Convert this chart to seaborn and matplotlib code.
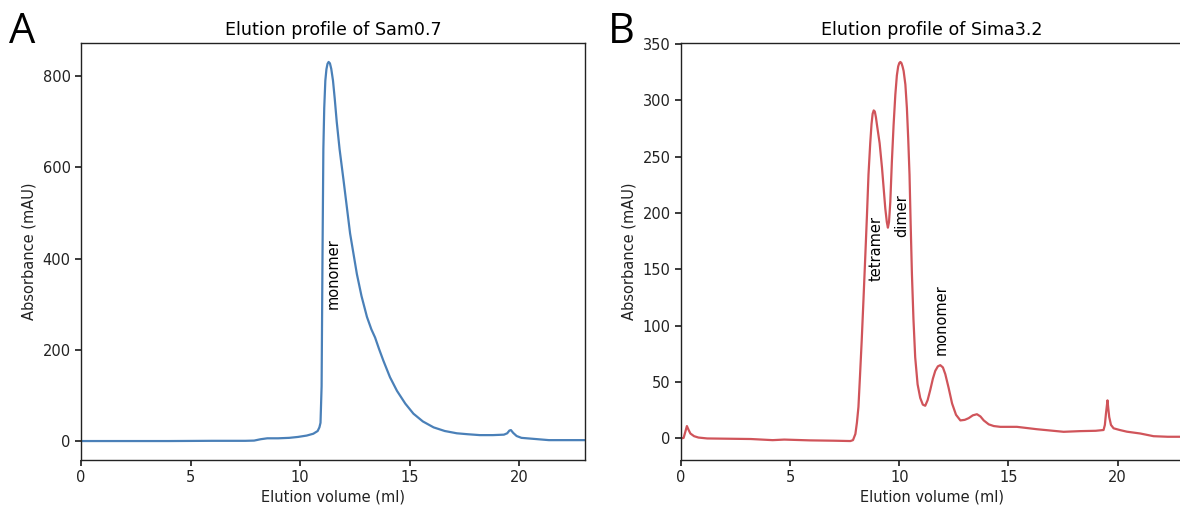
import numpy as np
import pandas as pd
import seaborn as sns
import matplotlib
matplotlib.use("Agg")
import matplotlib.pyplot as plt

# Panel A: Sam0.7 elution profile (volume in ml, absorbance in mAU)
vol_a = [0, 2, 4, 6, 7.5, 7.9, 8.2, 8.5, 9.0, 9.5, 9.9, 10.3, 10.6, 10.8, 10.88,
         10.93, 10.98, 11.02, 11.06, 11.1, 11.15, 11.2, 11.25, 11.3, 11.36, 11.42,
         11.5, 11.58, 11.67, 11.8, 11.98, 12.28, 12.59, 12.8, 13.05, 13.25, 13.42,
         13.6, 13.8, 14.1, 14.42, 14.8, 15.17, 15.6, 16.09, 16.6, 17.15, 17.63,
         18.2, 18.8, 19.3, 19.45, 19.55, 19.62, 19.72, 19.88, 20.1, 20.6, 21.35,
         22.2, 23.0]
abs_a = [0, 0, 0, 0.5, 0.5, 1, 4, 6, 6, 7, 9, 12, 16, 22, 30,
         40, 120, 400, 640, 730, 790, 815, 827, 831, 828, 816,
         790, 750, 700, 640, 572, 455, 366, 318, 272, 245, 227,
         202, 176, 140, 110, 82, 60, 43, 30, 22, 17, 15,
         13, 13, 14, 17, 23, 24, 18, 11, 7, 5, 2,
         2, 2]

# Panel B: Sima3.2 elution profile
vol_b = [0, 0.12, 0.2, 0.27, 0.35, 0.43, 0.6, 0.8, 1.2, 3.2, 4.2, 4.73, 5.9, 7.0,
         7.76, 7.88, 7.99, 8.06, 8.13, 8.2, 8.28, 8.36, 8.44, 8.52, 8.59, 8.67,
         8.73, 8.78, 8.83, 8.88, 8.93, 8.98, 9.1, 9.21, 9.36, 9.43, 9.48, 9.53,
         9.59, 9.66, 9.74, 9.82, 9.89, 9.95, 10.0, 10.05, 10.1, 10.15, 10.2,
         10.28, 10.35, 10.41, 10.47, 10.52, 10.58, 10.65, 10.73, 10.84, 10.96,
         11.08, 11.19, 11.3, 11.42, 11.54, 11.65, 11.77, 11.88, 12.0, 12.11,
         12.26, 12.42, 12.6, 12.8, 13.0, 13.18, 13.37, 13.56, 13.72, 13.87,
         14.1, 14.33, 14.63, 15.39, 16.3, 17.53, 18.29, 19.0, 19.36, 19.42,
         19.47, 19.54, 19.58, 19.62, 19.7, 19.82, 20.1, 20.43, 21.04, 21.65,
         22.3, 23.0]
abs_b = [0, 0.5, 6, 11, 7.5, 4.4, 2, 0.8, 0, -0.5, -1.5, -1, -1.7, -2,
         -2.3, -1.5, 4, 14, 28, 55, 87, 123, 160, 198, 234, 262,
         279, 288, 291, 290, 285, 278, 262, 240, 204, 192, 187, 192,
         210, 245, 278, 305, 322, 330, 333, 334, 333, 330, 326,
         314, 293, 266, 234, 192, 146, 106, 72, 48, 36,
         30, 29, 34, 43, 53, 60, 64, 65, 63, 57,
         45, 31, 21, 16, 16.5, 18, 20.5, 21.5, 19.5, 16,
         12.5, 11, 10.3, 10.3, 8.2, 5.9, 6.5, 6.8, 7.5, 12,
         22, 33.8, 26, 19, 12, 9, 7.5, 6, 4.4, 2,
         1.5, 1.5]

# peak labels: (text, volume, absorbance at label bottom)
labels_a = [("monomer", 11.5, 290)]
labels_b = [("tetramer", 8.94, 140), ("dimer", 10.1, 179), ("monomer", 11.93, 74)]

df_a = pd.DataFrame({"vol": vol_a, "abs": abs_a})
df_b = pd.DataFrame({"vol": vol_b, "abs": abs_b})

sns.set_theme(style="ticks", rc={
    "axes.edgecolor": "#222222",
    "axes.linewidth": 1.0,
    "xtick.major.size": 4,
    "ytick.major.size": 4,
    "xtick.color": "#222222",
    "ytick.color": "#222222",
    "text.color": "#222222",
    "axes.labelcolor": "#222222",
})
plt.rcParams['font.family'] = ['DejaVu Sans']

fig = plt.figure(figsize=(11.8, 5.11), dpi=100)
W, H = 1180, 511
ax_a = fig.add_axes([81 / W, 1 - 460 / H, 504 / W, 417 / H])
ax_b = fig.add_axes([681 / W, 1 - 460 / H, 502 / W, 417 / H])

panels = [
    (ax_a, df_a, "#4a80b8", "Elution profile of Sam0.7", labels_a),
    (ax_b, df_b, "#d0545a", "Elution profile of Sima3.2", labels_b),
]

for ax, df, color, title, labels in panels:
    sns.lineplot(data=df, x="vol", y="abs", ax=ax, color=color,
                 linewidth=1.6, estimator=None, sort=False)
    ax.set_xlim(0, 23)
    ax.set_xticks([0, 5, 10, 15, 20])
    ax.set_title(title, fontsize=12.6, pad=6, color="black")
    ax.set_xlabel("Elution volume (ml)", fontsize=10.5, labelpad=3)
    ax.set_ylabel("Absorbance (mAU)", fontsize=10.5, labelpad=4)
    ax.tick_params(labelsize=10.5)
    for txt, x, y in labels:
        ax.text(x, y, txt, rotation=90, ha="center", va="bottom", fontsize=10.5,
                color="black")

ax_a.set_yticks([0, 200, 400, 600, 800])
ax_b.set_yticks([0, 50, 100, 150, 200, 250, 300, 350])

fig.text(9 / W, 1 - 43 / H, "A", fontsize=30, family=["Open Sans", "DejaVu Sans"],
         va="baseline", ha="left", color="black")
fig.text(608 / W, 1 - 43 / H, "B", fontsize=30, family=["Open Sans", "DejaVu Sans"],
         va="baseline", ha="left", color="black")

fig.savefig("out.png", dpi=100)
